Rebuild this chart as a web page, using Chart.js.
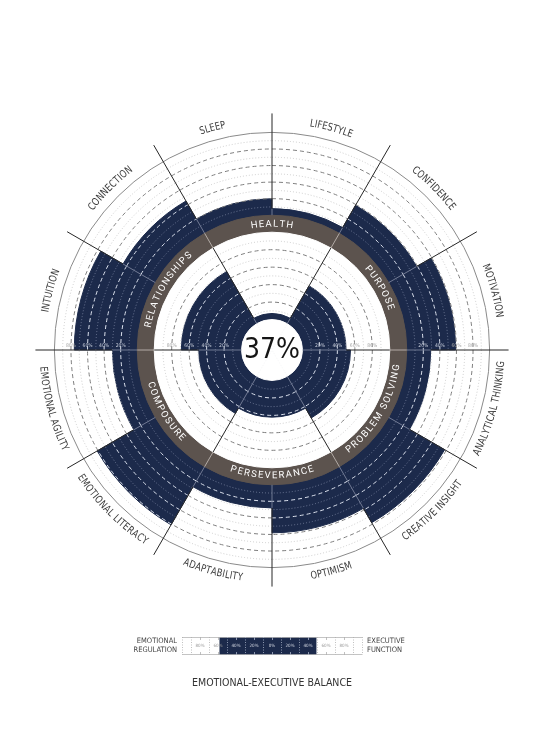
<!DOCTYPE html>
<html lang="en">
<head>
<meta charset="UTF-8">
<title>Emotional-Executive Balance</title>
<script src="https://cdn.jsdelivr.net/npm/chart.js"></script>
<style>
    body { margin: 0; background: #fff; }
    #wheel { position: absolute; left: 0; top: 0; }
    #balance { position: absolute; left: 0; top: 620px; }
</style>
</head>
<body>
<canvas id="wheel" width="545" height="700"></canvas>
<canvas id="balance" width="545" height="80"></canvas>
<script>
// outer ring: 12 skills, clockwise starting just left of 12 o'clock
const skillLabels = ['SLEEP', 'LIFESTYLE', 'CONFIDENCE', 'MOTIVATION', 'ANALYTICAL THINKING', 'CREATIVE INSIGHT',
    'OPTIMISM', 'ADAPTABILITY', 'EMOTIONAL LITERACY', 'EMOTIONAL AGILITY', 'INTUITION', 'CONNECTION'];
const skillScores = [20, 8, 39, 59, 29, 78, 58, 28, 81, 30, 76, 45];

// inner ring: 6 groups, each one sits under two skills
const groupLabels = ['HEALTH', 'PURPOSE', 'PROBLEM SOLVING', 'PERSEVERANCE', 'COMPOSURE', 'RELATIONSHIPS'];
const groupScores = [7, 50, 55, 42, 49, 69];

const overallScore = 37;
const ringTicks = [20, 40, 60, 80];

// bottom bar: negative = emotional regulation, positive = executive function
const balanceRange = [-58, 49];
const balanceTicks = [-80, -60, -40, -20, 0, 20, 40, 60, 80];

const NAVY = '#1c2a4b';
const BROWN = '#5c534e';
const NARROW = '"Liberation Sans Narrow", "DejaVu Sans Condensed", "Roboto Condensed", sans-serif';

// radial layout in r-axis units (axis runs 0..272.5, so 1 unit = 1px here)
const R_MAX = 272.5;
const HUB = 30.5, IN_BASE = 30.5, IN_K = 0.875, BROWN_IN = 118;
const OUT_BASE = 135, OUT_K = 0.83, RIM = 218, LINE_END = 237, LABEL_R = 230, GROUP_R = 126;

function arcText(ctx, text, cx, cy, r, mid, spacing, sx) {
    const flip = Math.sin(mid) > 0.01;
    const chars = [...text];
    const w = chars.map(ch => ctx.measureText(ch).width * sx);
    const total = w.reduce((a, b) => a + b, 0) + spacing * (chars.length - 1);
    const dir = flip ? -1 : 1;
    let a = mid - dir * total / 2 / r;
    chars.forEach((ch, k) => {
        const ca = a + dir * w[k] / 2 / r;
        ctx.save();
        ctx.translate(cx + Math.cos(ca) * r, cy + Math.sin(ca) * r);
        ctx.rotate(flip ? ca - Math.PI / 2 : ca + Math.PI / 2);
        ctx.scale(sx, 1);
        ctx.fillText(ch, 0, 0);
        ctx.restore();
        a += dir * (w[k] + spacing) / r;
    });
}

const wheelDecor = {
    id: 'wheelDecor',
    afterDatasetsDraw(chart) {
        const ctx = chart.ctx;
        const s = chart.scales.r;
        const cx = s.xCenter, cy = s.yCenter;
        const R = v => s.getDistanceFromCenterForValue(v);
        const inner = chart.getDatasetMeta(1).data;
        const outer = chart.getDatasetMeta(4).data;

        ctx.save();
        // dashed every 20%, dotted in between; lighter where it crosses a bar
        const grid = (arcs, base, k) => arcs.forEach(arc => {
            for (let p = 10; p < 100; p += 10) {
                const r = R(base + p * k);
                const dark = r < arc.outerRadius;
                const dashed = p % 20 === 0;
                ctx.beginPath();
                ctx.arc(cx, cy, r, arc.startAngle, arc.endAngle);
                ctx.setLineDash(dashed ? [4, 3] : [1, 2]);
                ctx.lineWidth = dashed ? 1 : 0.8;
                ctx.strokeStyle = dashed ? (dark ? '#dce2ee' : '#7e7e7e') : (dark ? '#7d88a3' : '#c2c2c2');
                ctx.stroke();
            }
        });
        grid(inner, IN_BASE, IN_K);
        grid(outer, OUT_BASE, OUT_K);

        ctx.setLineDash([]);
        ctx.beginPath();
        ctx.arc(cx, cy, R(RIM), 0, Math.PI * 2);
        ctx.strokeStyle = '#8a8a8a';
        ctx.lineWidth = 1;
        ctx.stroke();

        // spokes
        const seg = (a, r0, r1, color) => {
            if (r1 <= r0) return;
            ctx.beginPath();
            ctx.moveTo(cx + Math.cos(a) * r0, cy + Math.sin(a) * r0);
            ctx.lineTo(cx + Math.cos(a) * r1, cy + Math.sin(a) * r1);
            ctx.strokeStyle = color;
            ctx.lineWidth = 1;
            ctx.stroke();
        };
        outer.forEach((arc, i) => {
            const a = arc.startAngle;
            const reach = Math.min(arc.outerRadius, outer[(i + 11) % 12].outerRadius);
            seg(a, R(OUT_BASE), reach, '#6f7892');
            seg(a, reach, R(LINE_END), '#262626');
            if (i % 2 === 0) {
                const j = i / 2;
                const inReach = Math.min(inner[j].outerRadius, inner[(j + 5) % 6].outerRadius);
                seg(a, R(HUB), inReach, '#6f7892');
                seg(a, inReach, R(BROWN_IN), '#262626');
                seg(a, R(BROWN_IN), R(OUT_BASE), '#b3aba6');
            }
        });

        // percent marks along the horizontal spoke
        ctx.font = '5px ' + NARROW;
        ctx.textAlign = 'center';
        ctx.textBaseline = 'middle';
        [[1, 3, 1], [5, 10, -1]].forEach(([ji, oi, side]) => {
            ringTicks.forEach(p => {
                [[IN_BASE, IN_K, inner[ji]], [OUT_BASE, OUT_K, outer[oi]]].forEach(([base, k, arc]) => {
                    const r = R(base + p * k);
                    ctx.fillStyle = r < arc.outerRadius ? '#c9cfdc' : '#a5a5a5';
                    ctx.fillText(p + '%', cx + side * r, cy - 4.5);
                });
            });
        });
        ctx.restore();
    },
    afterDraw(chart) {
        const ctx = chart.ctx;
        const s = chart.scales.r;
        const cx = s.xCenter, cy = s.yCenter;
        const R = v => s.getDistanceFromCenterForValue(v);
        ctx.save();
        ctx.textAlign = 'center';
        ctx.textBaseline = 'middle';

        ctx.fillStyle = '#151515';
        ctx.font = '28px ' + NARROW;
        ctx.fillText(overallScore + '%', cx, cy + 1);

        ctx.fillStyle = '#fff';
        ctx.font = '9.5px Roboto, sans-serif';
        chart.getDatasetMeta(3).data.forEach((arc, j) => {
            arcText(ctx, groupLabels[j], cx, cy, R(GROUP_R), (arc.startAngle + arc.endAngle) / 2, 1.3, 1);
        });

        ctx.fillStyle = '#3b3b3b';
        ctx.font = '10.5px ' + NARROW;
        chart.getDatasetMeta(4).data.forEach((arc, i) => {
            arcText(ctx, skillLabels[i], cx, cy, R(LABEL_R), (arc.startAngle + arc.endAngle) / 2, 0.2, 0.88);
        });
        ctx.restore();
    }
};

const disk = (data, color) => ({ data, backgroundColor: color, borderColor: color, borderWidth: 1 });

new Chart(document.getElementById('wheel'), {
    type: 'polarArea',
    data: {
        labels: skillLabels,
        datasets: [
            disk(Array(6).fill(HUB), '#fff'),
            disk(groupScores.map(v => IN_BASE + v * IN_K), NAVY),
            disk(Array(6).fill(BROWN_IN), '#fff'),
            disk(Array(6).fill(OUT_BASE), BROWN),
            disk(skillScores.map(v => OUT_BASE + v * OUT_K), NAVY)
        ]
    },
    options: {
        responsive: false,
        animation: false,
        events: [],
        plugins: { legend: { display: false }, tooltip: { enabled: false } },
        scales: {
            r: {
                min: 0,
                max: R_MAX,
                startAngle: -30,
                ticks: { display: false },
                grid: { display: false },
                angleLines: { display: false },
                pointLabels: { display: false }
            }
        }
    },
    plugins: [wheelDecor]
});

const balanceDecor = {
    id: 'balanceDecor',
    afterDatasetsDraw(chart) {
        const ctx = chart.ctx;
        const x = chart.scales.x;
        const { top, bottom, left, right } = chart.chartArea;
        const inBar = v => v > balanceRange[0] && v < balanceRange[1];
        ctx.save();
        ctx.strokeStyle = '#b5b5b5';
        ctx.lineWidth = 0.8;
        ctx.beginPath();
        ctx.moveTo(left, top + 0.5); ctx.lineTo(right, top + 0.5);
        ctx.moveTo(left, bottom - 0.5); ctx.lineTo(right, bottom - 0.5);
        ctx.stroke();
        for (let v = -100; v <= 100; v += 10) {
            const px = Math.round(x.getPixelForValue(v)) + 0.5;
            ctx.strokeStyle = inBar(v) ? '#aab3c6' : '#b0b0b0';
            ctx.beginPath();
            if (v % 20 !== 0 || Math.abs(v) === 100) {
                ctx.setLineDash([1, 1.5]);
                ctx.moveTo(px, top); ctx.lineTo(px, bottom);
            } else {
                ctx.setLineDash([]);
                ctx.moveTo(px, top); ctx.lineTo(px, top + 3);
                ctx.moveTo(px, bottom - 3); ctx.lineTo(px, bottom);
            }
            ctx.stroke();
        }
        ctx.font = '4.5px ' + NARROW;
        ctx.textAlign = 'center';
        ctx.textBaseline = 'middle';
        balanceTicks.forEach(v => {
            ctx.fillStyle = inBar(v) ? '#d5d9e3' : '#9a9a9a';
            ctx.fillText(Math.abs(v) + '%', x.getPixelForValue(v), (top + bottom) / 2);
        });
        ctx.restore();
    },
    afterDraw(chart) {
        const ctx = chart.ctx;
        const { top, bottom, left, right } = chart.chartArea;
        ctx.save();
        ctx.fillStyle = '#444';
        ctx.font = '7.5px ' + NARROW;
        ctx.textBaseline = 'middle';
        ctx.textAlign = 'right';
        ctx.fillText('EMOTIONAL', left - 5, top + 4.5);
        ctx.fillText('REGULATION', left - 5, bottom - 4.5);
        ctx.textAlign = 'left';
        ctx.fillText('EXECUTIVE', right + 5, top + 4.5);
        ctx.fillText('FUNCTION', right + 5, bottom - 4.5);
        ctx.fillStyle = '#333';
        ctx.font = '10.5px ' + NARROW;
        ctx.textAlign = 'center';
        ctx.fillText('EMOTIONAL-EXECUTIVE BALANCE', (left + right) / 2, 63);
        ctx.restore();
    }
};

new Chart(document.getElementById('balance'), {
    type: 'bar',
    data: {
        labels: ['balance'],
        datasets: [{ data: [balanceRange], backgroundColor: NAVY, borderWidth: 0, barPercentage: 1, categoryPercentage: 1 }]
    },
    options: {
        indexAxis: 'y',
        responsive: false,
        animation: false,
        events: [],
        layout: { padding: { left: 182, right: 183, top: 17, bottom: 45 } },
        plugins: { legend: { display: false }, tooltip: { enabled: false } },
        scales: {
            x: { display: false, min: -100, max: 100 },
            y: { display: false }
        }
    },
    plugins: [balanceDecor]
});
</script>
</body>
</html>
